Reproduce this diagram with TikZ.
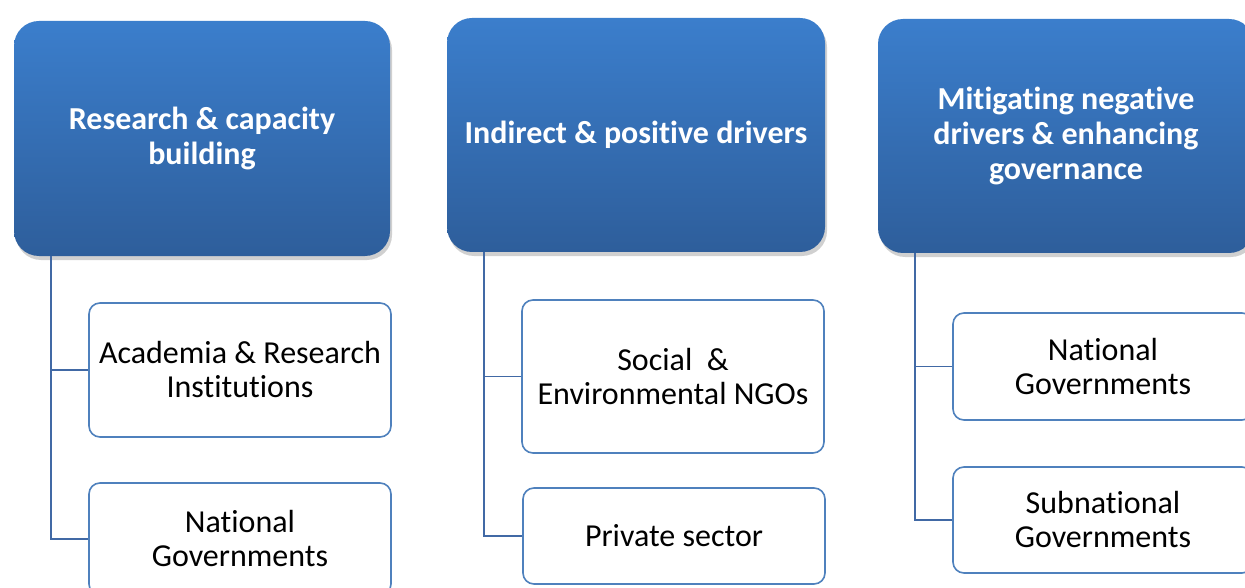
\documentclass[tikz,border=0pt]{standalone}
\usepackage{fontspec}
\setmainfont{Carlito}[Ligatures=NoCommon, Contextuals=NoAlternate, RawFeature={-dlig}]
\usetikzlibrary{shadows}
\definecolor{hdtop}{RGB}{59,126,204}
\definecolor{hdbot}{RGB}{46,94,155}
\definecolor{bord}{RGB}{79,129,189}
\definecolor{conn}{RGB}{65,105,165}
\newcommand{\tiB}{t\kern0pt i}
\begin{document}
\begin{tikzpicture}[x=1pt,y=-1pt,
  header/.style={rounded corners=25pt, top color=hdtop, bottom color=hdbot, draw=none,
    text=white, font=\fontsize{32}{35}\selectfont\bfseries, align=center, inner sep=0pt,
    drop shadow={shadow xshift=2pt, shadow yshift=-4pt, opacity=0.3, fill=black!60}},
  child/.style={rounded corners=11pt, draw=bord, line width=1.6pt, fill=white,
    text=black, font=\fontsize{32}{34}\selectfont, align=center, inner sep=0pt},
  link/.style={draw=conn, line width=1.8pt}]
\useasboundingbox (0,0) rectangle (1245,588);
\fill[white] (0,0) rectangle (1245,588);
\clip (0,0) rectangle (1245,588);

% headers
\node[header, minimum width=376pt, minimum height=235pt] (h1) at (202,138.5) {Research \& capacity\\building};
\node[header, minimum width=378pt, minimum height=234pt] (h2) at (636,135) {Indirect \& posi\tiB ve drivers};
\node[header, minimum width=376pt, minimum height=234pt] (h3) at (1066,136) {Mi\tiB ga\tiB ng nega\tiB ve\\drivers \& enhancing\\governance};

% spine coordinates
\coordinate (s1) at (51,0);
\coordinate (s2) at (484,0);
\coordinate (s3) at (915,0);

% children
\node[child, minimum width=302pt, minimum height=134pt] (c11) at (240,370) {Academia \& Research\\Ins\tiB tu\tiB ons};
\node[child, minimum width=302pt, minimum height=112pt] (c12) at (240,539) {Na\tiB onal\\Governments};
\node[child, minimum width=302pt, minimum height=153pt] (c21) at (673,376.5) {Social\ \ \&\\Environmental NGOs};
\node[child, minimum width=302pt, minimum height=96pt] (c22) at (674,536) {Private sector};
\node[child, minimum width=300pt, minimum height=107pt] (c31) at (1103,366.5) {Na\tiB onal\\Governments};
\node[child, minimum width=300pt, minimum height=106pt] (c32) at (1103,520) {Subna\tiB onal\\Governments};

% connectors
\draw[link] (s1 |- h1.south) -- (s1 |- c12.west) -- (c12.west);
\draw[link] (s1 |- c11.west) -- (c11.west);
\draw[link] (s2 |- h2.south) -- (s2 |- c22.west) -- (c22.west);
\draw[link] (s2 |- c21.west) -- (c21.west);
\draw[link] (s3 |- h3.south) -- (s3 |- c32.west) -- (c32.west);
\draw[link] (s3 |- c31.west) -- (c31.west);
\end{tikzpicture}
\end{document}
